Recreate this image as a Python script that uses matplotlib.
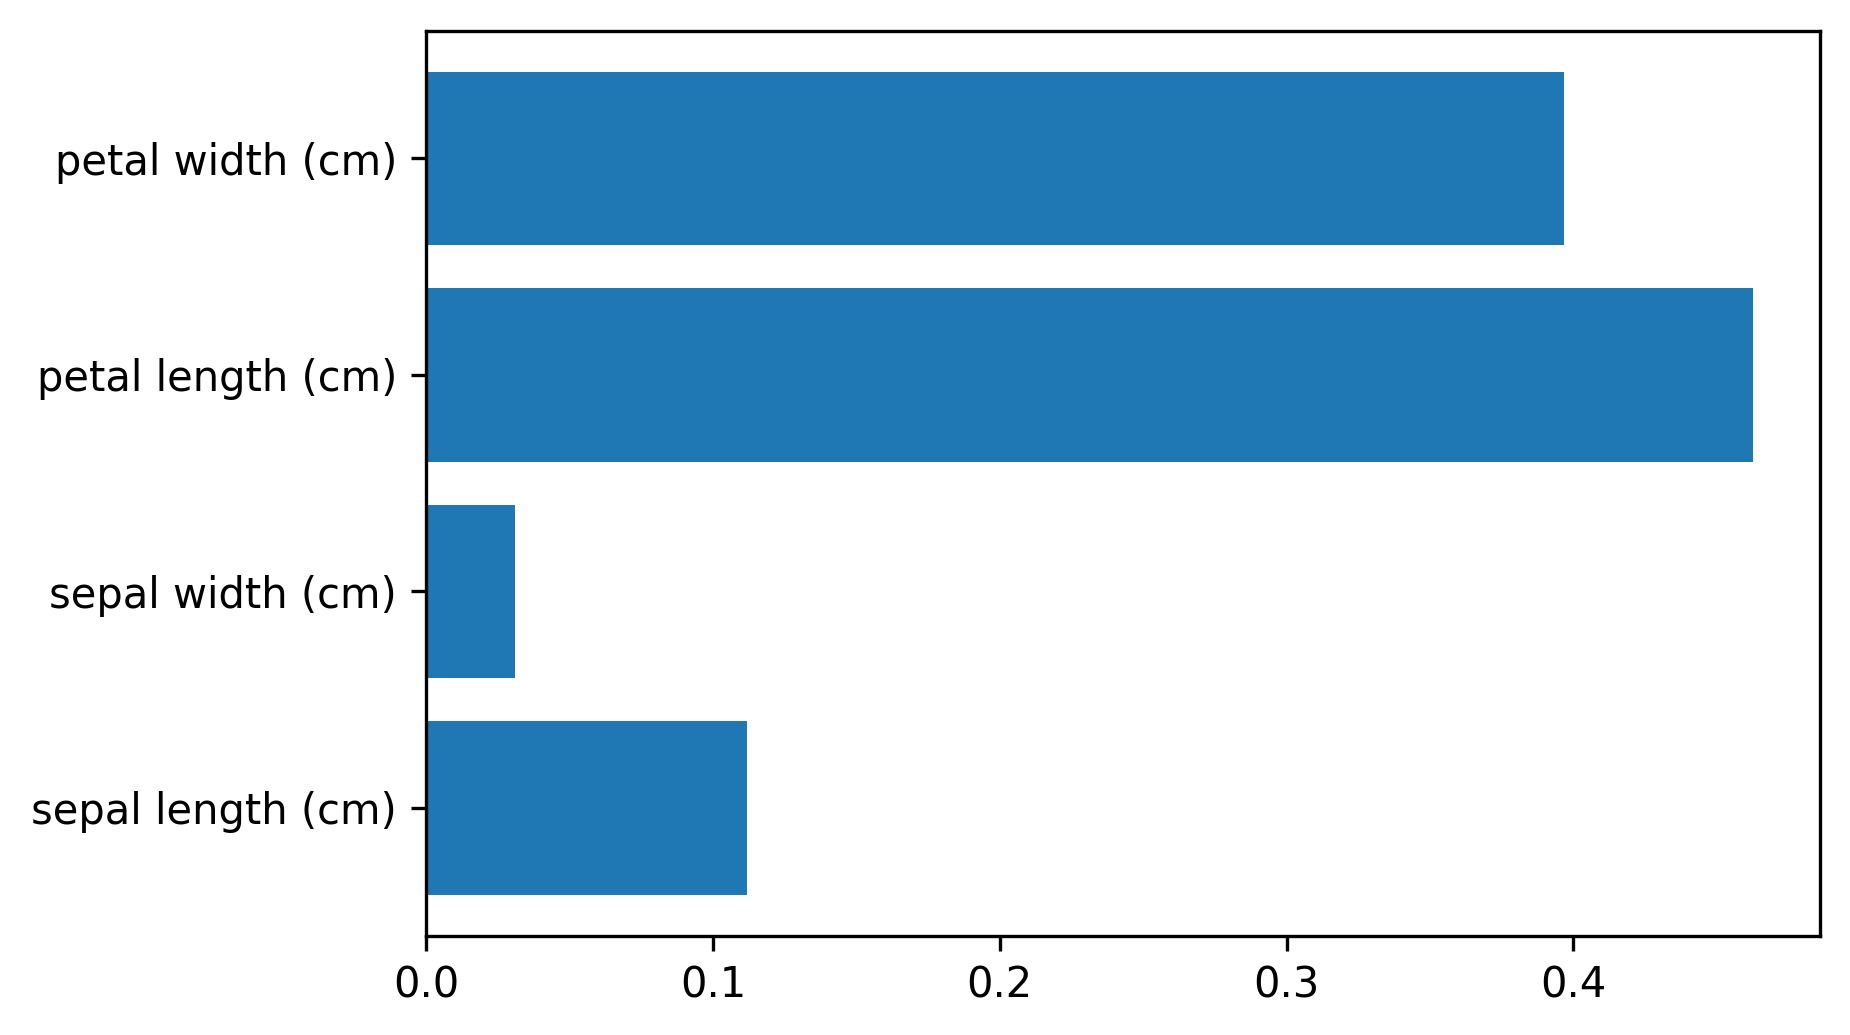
import matplotlib
matplotlib.use("Agg")
from matplotlib import pyplot as plt
import numpy as np

feature_names = ['sepal length (cm)', 'sepal width (cm)',
                 'petal length (cm)', 'petal width (cm)']
importances = [0.112, 0.0311, 0.4628, 0.3968]

fig, ax = plt.subplots(figsize=(1850/300, 1035/300), dpi=300)
fig.subplots_adjust(left=0.2303, right=0.9837, top=0.9703, bottom=0.096)

pos = np.arange(len(feature_names))
ax.barh(pos, importances, color='#1f77b4')
ax.set_yticks(pos)
ax.set_yticklabels(feature_names)

fig.savefig('out.png', dpi=300)
